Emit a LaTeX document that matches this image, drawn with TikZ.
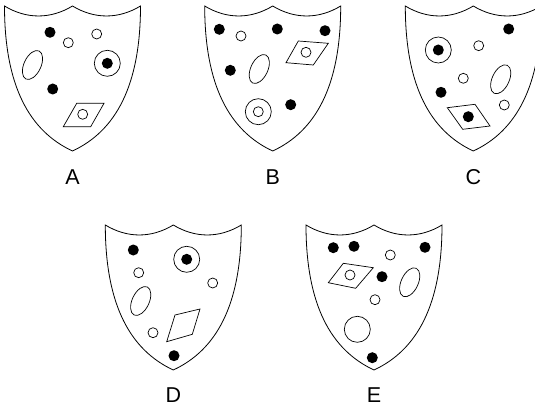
\documentclass[tikz,border=0pt]{standalone}
\usepackage{fontspec}
\setmainfont{Liberation Sans}
\usepackage{tikz}
\usetikzlibrary{shapes.geometric}
\tikzset{
  shieldline/.style={draw, line width=0.8pt},
  fdot/.style={circle, fill=black, minimum size=11pt, inner sep=0pt},
  odot/.style={circle, draw, line width=0.7pt, minimum size=10pt, inner sep=0pt},
  ring/.style={circle, draw, line width=0.7pt, minimum size=26pt, inner sep=0pt},
  oval/.style={ellipse, draw, line width=0.7pt, minimum width=31pt, minimum height=17pt, inner sep=0pt, rotate=65},
  rhomb/.style={draw, line width=0.7pt, line join=miter},
  letter/.style={font=\fontsize{21.5}{25}\selectfont, inner sep=0pt},
  shield/.pic={
    \draw[shieldline] (-68,0) .. controls (-46,13.3) and (-22,13.3) .. (0,0)
      .. controls (22,13.3) and (46,13.3) .. (68,0)
      .. controls (68,80) and (43,125) .. (0,145)
      .. controls (-43,125) and (-68,80) .. cycle;
  }
}
\begin{document}
\begin{tikzpicture}[x=1pt, y=-1pt]
\useasboundingbox (0,0) rectangle (535,406);
% shields
\pic at (72.5,6) {shield};
\pic at (272.7,6) {shield};
\pic at (473.3,6) {shield};
\pic at (173.3,225) {shield};
\pic at (374,225) {shield};
% A
\node[fdot] (a1) at (50,32.3) {};
\node[odot] (a2) at (68.3,42.7) {};
\node[odot] (a3) at (96.7,34) {};
\node[oval] (a4) at (32.5,65) {};
\node[ring] (a5) at (107.3,63.3) {};
\node[fdot] (a6) at (a5) {};
\node[fdot] (a7) at (52.7,89) {};
\draw[rhomb] (63.3,126.7) -- (76.7,103.3) -- (104,103.3) -- (90.7,126.7) -- cycle;
\node[odot] (a8) at (82.7,114.3) {};
\node[letter] (la) at (72.5,177) {A};
% B
\node[fdot] (b1) at (219.3,29.3) {};
\node[odot] (b2) at (241,36) {};
\node[fdot] (b3) at (277.3,29) {};
\node[fdot] (b4) at (325,30.7) {};
\draw[rhomb] (286,62.7) -- (298.3,41) -- (328.3,43.3) -- (313.3,65) -- cycle;
\node[odot] (b5) at (306,52.3) {};
\node[fdot] (b6) at (230.3,70.3) {};
\node[oval] (b7) at (259.3,69) {};
\node[ring] (b8) at (258.3,111.7) {};
\node[odot] (b9) at (b8) {};
\node[fdot] (b10) at (290.7,104.7) {};
\node[letter] (lb) at (272.7,177) {B};
% C
\node[ring] (c1) at (438.3,50) {};
\node[fdot] (c2) at (c1) {};
\node[odot] (c3) at (478.7,45.7) {};
\node[fdot] (c4) at (508.7,29) {};
\node[odot] (c5) at (463.3,78.3) {};
\node[oval] (c6) at (500.7,79.3) {};
\node[fdot] (c7) at (441,92.3) {};
\node[odot] (c8) at (504.3,105) {};
\draw[rhomb] (447.3,107.7) -- (475,104.3) -- (490,126) -- (462.7,129.3) -- cycle;
\node[fdot] (c9) at (468.3,116.7) {};
\node[letter] (lc) at (473.3,177) {C};
% D
\node[fdot] (d1) at (133.3,250) {};
\node[ring] (d2) at (186.7,259.3) {};
\node[fdot] (d3) at (d2) {};
\node[odot] (d4) at (138.7,272.7) {};
\node[odot] (d5) at (212.7,283) {};
\node[oval] (d6) at (140.7,301) {};
\draw[rhomb] (166.7,341.7) -- (175,315) -- (200,309) -- (192.3,334.3) -- cycle;
\node[odot] (d7) at (153,332.7) {};
\node[fdot] (d8) at (174,355.7) {};
\node[letter] (ld) at (173.3,395) {D};
% E
\node[fdot] (e1) at (333.3,247.7) {};
\node[fdot] (e2) at (354,246.3) {};
\node[odot] (e3) at (390.3,255) {};
\node[fdot] (e4) at (425,247.3) {};
\draw[rhomb] (328.3,282.7) -- (343.3,263.3) -- (373.3,267.7) -- (355.7,288.3) -- cycle;
\node[odot] (e5) at (350,275) {};
\node[fdot] (e6) at (382,276.7) {};
\node[oval] (e7) at (409.7,282.3) {};
\node[odot] (e8) at (375,299.7) {};
\node[ring] (e9) at (357.3,329.3) {};
\node[fdot] (e10) at (372.3,357.7) {};
\node[letter] (le) at (374,395) {E};
\end{tikzpicture}
\end{document}
